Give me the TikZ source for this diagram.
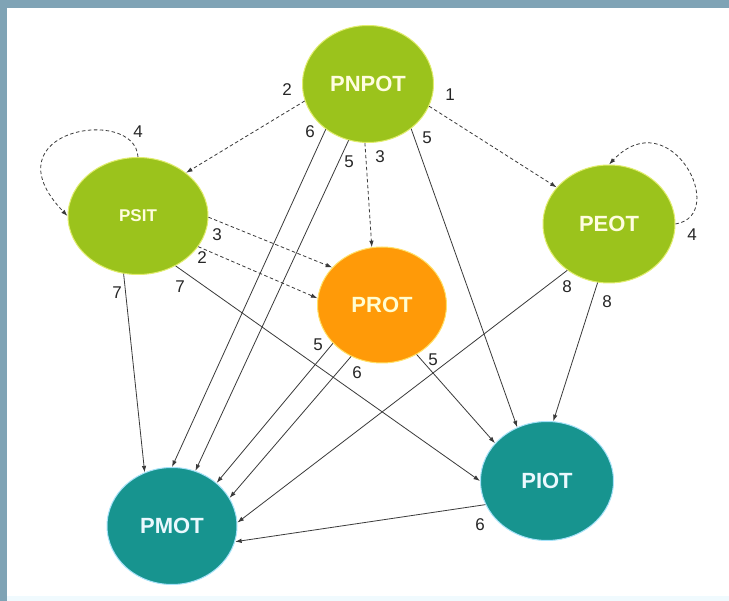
\documentclass[tikz,border=0pt]{standalone}
\usepackage{fontspec}
\setmainfont{Liberation Sans}
\usetikzlibrary{arrows.meta,shapes.geometric}
\definecolor{planframe}{HTML}{7FA3B5}
\definecolor{plangreen}{HTML}{9BC31C}
\definecolor{planorange}{HTML}{FF9A08}
\definecolor{planteal}{HTML}{17948F}
\definecolor{planedge}{HTML}{3A3A3A}

\begin{document}
\begin{tikzpicture}[x=1pt, y=-1pt, >={Latex[length=6.5pt,width=4.5pt]},
    plan/.style={ellipse, inner sep=0pt, minimum width=131pt, minimum height=117pt,
        line width=1pt, font=\fontsize{22}{26}\selectfont\bfseries},
    greenplan/.style={plan, fill=plangreen, draw=plangreen!50!yellow!60, text=yellow!12},
    orangeplan/.style={plan, fill=planorange, draw=planorange!50!yellow!60, text=yellow!18},
    tealplan/.style={plan, fill=planteal, draw=cyan!35, text=cyan!8},
    flow/.style={->, draw=planedge, line width=0.8pt},
    link/.style={flow, dash pattern=on 3.5pt off 2.5pt},
    num/.style={inner sep=0pt, font=\fontsize{17}{20}\selectfont, text=black!85}]
    % Page and frame.
    \useasboundingbox (0,0) rectangle (729,601);
    \fill[white] (0,0) rectangle (729,601);
    \fill[planframe] (0,0) rectangle (729,8);
    \fill[planframe] (0,0) rectangle (7,601);
    \fill[cyan!6] (7,596) rectangle (729,601);
    % Plan levels.
    \node[greenplan] (pnpot) at (368,84) {PNPOT};
    \node[greenplan, minimum width=140pt, font=\fontsize{17}{20}\selectfont\bfseries] (psit) at (138,216) {PSIT};
    \node[greenplan, minimum width=132pt, minimum height=118pt] (peot) at (609,224) {PEOT};
    \node[orangeplan, minimum width=129pt, minimum height=116pt] (prot) at (382,305) {PROT};
    \node[tealplan, minimum width=133pt, minimum height=119pt] (piot) at (547,481) {PIOT};
    \node[tealplan, minimum width=130pt, minimum height=117pt] (pmot) at (172,526) {PMOT};
    % Dashed links.
    \foreach \a/\b in {pnpot.195/psit.42, pnpot.340/peot.145, pnpot.267/prot.100,
                       psit.359/prot.143, psit.333/prot.174}{
        \draw[link] (\a) -- (\b);
    }
    \draw[link] (psit.90) .. controls (135,105) and (-15,130) .. (psit.180);
    \draw[link] (peot.0) .. controls (730,215) and (670,100) .. (peot.90);
    % Solid flows.
    \foreach \a/\b in {pnpot.227/pmot.90, pnpot.251/pmot.67, pnpot.314/piot.119,
                       psit.256/pmot.117, psit.307/piot.180,
                       prot.218/pmot.44, prot.239/pmot.26, prot.305/piot.144,
                       peot.228/pmot.3, peot.259/piot.84, piot.201/pmot.346}{
        \draw[flow] (\a) -- (\b);
    }
    % Edge numbers.
    \foreach \x/\y/\t [count=\i] in {287/90/2, 450/95/1, 310/132/6, 349/162/5, 380/157/3,
        427/138/5, 138/132/4, 217/235/3, 202/258/2, 117/293/7, 180/287/7,
        692/235/4, 567/287/8, 607/302/8, 318/345/5, 357/373/6, 433/360/5, 480/525/6}{
        \node[num] (n\i) at (\x,\y) {\t};
    }
\end{tikzpicture}
\end{document}
